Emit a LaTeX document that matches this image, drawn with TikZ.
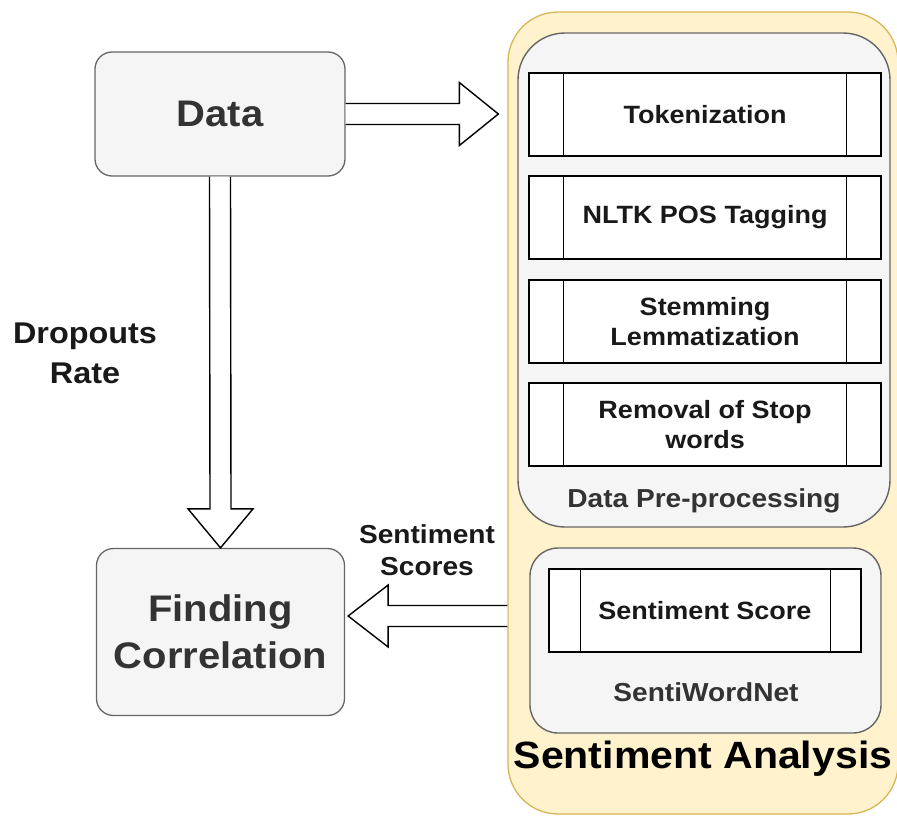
\documentclass[tikz,border=0pt]{standalone}
\usepackage{fontspec}
\setmainfont{Liberation Sans}[FakeStretch=1.08]
\usetikzlibrary{calc}
\definecolor{gold}{HTML}{D6B656}
\definecolor{cream}{HTML}{FFF2CC}
\definecolor{grayline}{HTML}{666666}
\definecolor{grayfill}{HTML}{F5F5F5}
\definecolor{darktext}{HTML}{333333}
\newcommand{\fsz}[2]{\fontsize{#1}{#2}\selectfont}
\begin{document}
\begin{tikzpicture}[x=1pt,y=-1pt,
  mainbox/.style={draw=grayline,fill=grayfill,line width=1.3pt,rounded corners=17pt,
    text=darktext,font=\bfseries\fsz{37}{47},align=center,inner sep=0pt},
  container/.style={draw=gold,fill=cream,line width=1.3pt,rounded corners=50pt,inner sep=0pt},
  group/.style={draw=grayline,fill=grayfill,line width=1.4pt,inner sep=0pt},
  procbox/.style={draw=black,fill=white,line width=1.3pt,minimum width=352pt,minimum height=83pt,
    inner sep=0pt,font=\bfseries\fsz{25}{30},text=black!90,align=center},
  lbl/.style={inner sep=0pt,align=center},
  blockarrow/.style={draw=black,fill=white,line width=1.4pt,line join=miter}
]
\useasboundingbox (0,0) rectangle (897,815);

% container and groups
\node[container,minimum width=390pt,minimum height=802pt] (sa) at (703,413) {};
\node[group,rounded corners=47pt,minimum width=372pt,minimum height=494pt] (dpp) at (704,280) {};
\node[group,rounded corners=28pt,minimum width=351pt,minimum height=185pt] (swn) at (705.5,640.5) {};

% process boxes
\node[procbox] (tok) at (705,114.5) {Tokenization};
\node[procbox] (nltk) at (705,217.5) {NLTK POS Tagging};
\node[procbox] (stem) at (705,321.5) {Stemming\\Lemmatization};
\node[procbox] (rem) at (705,424.5) {Removal of Stop\\words};
\node[procbox,minimum width=312pt] (ss) at (705,610.5) {Sentiment Score};

\foreach \b in {tok,nltk,stem,rem}{
  \draw[line width=1.3pt] ($(\b.north west)+(35,0)$) -- ($(\b.south west)+(35,0)$);
  \draw[line width=1.3pt] ($(\b.north east)+(-35,0)$) -- ($(\b.south east)+(-35,0)$);
}
\draw[line width=1.3pt] ($(ss.north west)+(32,0)$) -- ($(ss.south west)+(32,0)$);
\draw[line width=1.3pt] ($(ss.north east)+(-31,0)$) -- ($(ss.south east)+(-31,0)$);

% group labels
\node[lbl,text=darktext,font=\bfseries\fsz{26}{31}] (dppl) at (704,501) {Data Pre-processing};
\node[lbl,text=darktext,font=\bfseries\fsz{26}{31}] (swnl) at (706,692) {SentiWordNet};
\node[lbl,text=black,font=\bfseries\fsz{38}{45}] (sal) at (703,759) {Sentiment Analysis};

% left nodes
\node[mainbox,minimum width=250pt,minimum height=124pt] (data) at (220,114) {Data};
\node[mainbox,minimum width=248pt,minimum height=167pt] (fc) at (220.5,632) {Finding\\Correlation};

% labels
\node[lbl,text=black!90,font=\bfseries\fsz{30}{40}] (dr) at (85,353) {Dropouts\\Rate};
\node[lbl,text=black!90,font=\bfseries\fsz{26}{32}] (sscl) at (427,550) {Sentiment\\Scores};

% arrow Data -> Sentiment Analysis
\coordinate (h1) at ($(sa.west |- data.east)+(-9,0)$);
\filldraw[blockarrow] ($(data.east)+(0,-10.5)$) -- ($(h1)+(-39,-10.5)$) -- ($(h1)+(-39,-31.5)$)
  -- (h1) -- ($(h1)+(-39,31.5)$) -- ($(h1)+(-39,10.5)$) -- ($(data.east)+(0,10.5)$);

% arrow Data -> Finding Correlation
\coordinate (v1) at (fc.north);
\filldraw[blockarrow] ($(data.south)+(-10.5,0)$) -- ($(v1)+(-10.5,-39)$) -- ($(v1)+(-32.5,-39)$)
  -- (v1) -- ($(v1)+(32.5,-39)$) -- ($(v1)+(10.5,-39)$) -- ($(data.south)+(10.5,0)$);

% arrow Sentiment Analysis -> Finding Correlation
\coordinate (l1) at ($(fc.east)+(3,-16)$);
\coordinate (l0) at (sa.west |- l1);
\filldraw[blockarrow] ($(l0)+(0,-10.5)$) -- ($(l1)+(40,-10.5)$) -- ($(l1)+(40,-31)$)
  -- (l1) -- ($(l1)+(40,31)$) -- ($(l1)+(40,10.5)$) -- ($(l0)+(0,10.5)$);
\end{tikzpicture}
\end{document}
